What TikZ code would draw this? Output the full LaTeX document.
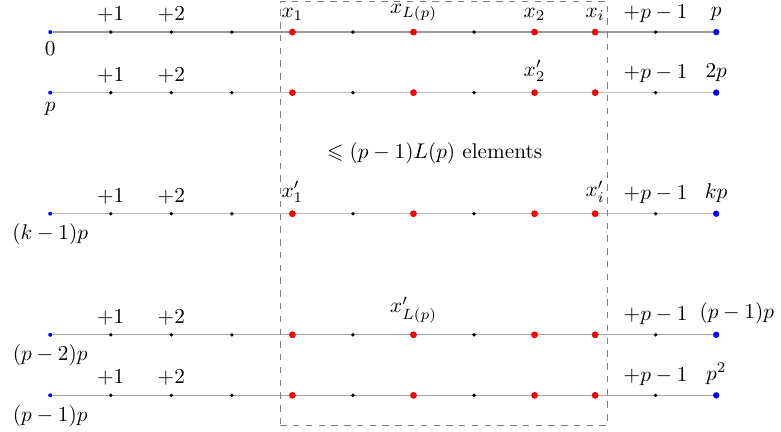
\documentclass[tikz,border=0pt]{standalone}
\usepackage{amsmath}
\usepackage{amssymb}
\usetikzlibrary{positioning,backgrounds}

\begin{document}
\begin{tikzpicture}[
      dot/.style={circle, fill=black, inner sep=0pt, minimum size=1.8pt},
      hit/.style={circle, fill=red, inner sep=0pt, minimum size=3.2pt},
      first/.style={circle, fill=blue, inner sep=0pt, minimum size=1.9pt},
      last/.style={circle, fill=blue, inner sep=0pt, minimum size=3pt},
      row/.style={line width=0.6pt},
      window/.style={draw=gray, dashed, minimum width=5.4cm, minimum height=7cm},
    ]
    \useasboundingbox (-0.83,-6.59) rectangle (12.07,0.53);
    \foreach \r/\y/\col in {1/0/gray!80, 2/-1/gray!50, 3/-3/gray!55, 4/-5/gray!70, 5/-6/gray!70} {
      \node[first] (r\r-0) at (0,\y) {};
      \foreach \i in {1,2,3,5,7,10}
        \node[dot] (r\r-\i) at (\i,\y) {};
      \foreach \i in {4,6,8,9}
        \node[hit] (r\r-\i) at (\i,\y) {};
      \node[last] (r\r-11) at (11,\y) {};
      \begin{pgfonlayer}{background}
        \draw[row, draw=\col] (r\r-0) -- (r\r-11);
      \end{pgfonlayer}
      \node[above=0pt of r\r-1] (a\r-1) {$+1$};
      \node[above=0pt of r\r-2] (a\r-2) {$+2$};
      \node[above=0pt of r\r-10] (a\r-10) {$+p-1$};
    }
    \node[below=0pt of r1-0] (b1) {$0$};
    \node[below=0pt of r2-0] (b2) {$p$};
    \node[below=0pt of r3-0] (b3) {$(k-1)p$};
    \node[below=0pt of r4-0] (b4) {$(p-2)p$};
    \node[below=0pt of r5-0] (b5) {$(p-1)p$};
    \node[above=0pt of r1-4] (x1) {$x_1$};
    \node[above=0pt of r1-6] (xl) {$x_{L(p)}$};
    \node[above=0pt of r1-8] (x2) {$x_2$};
    \node[above=0pt of r1-9] (xi) {$x_i$};
    \node[above=0pt of r1-11] (e1) {$p$};
    \node[above=0pt of r2-8] (y2) {$x'_2$};
    \node[above=0pt of r2-11] (e2) {$2p$};
    \node[above=0pt of r3-4] (y1) {$x'_1$};
    \node[above=0pt of r3-9] (yi) {$x'_i$};
    \node[above=0pt of r3-11] (e3) {$kp$};
    \node[above=0pt of r4-6] (yl) {$x'_{L(p)}$};
    \node[above=0pt of r4-11, xshift=3.4mm] (e4) {$(p-1)p$};
    \node[above=0pt of r5-11] (e5) {$p^2$};
    \node (cnt) at (6.35,-2) {$\leqslant (p-1)L(p)$ elements};
    \node[window] (win) at (6.5,-3) {};
  \end{tikzpicture}
\end{document}
